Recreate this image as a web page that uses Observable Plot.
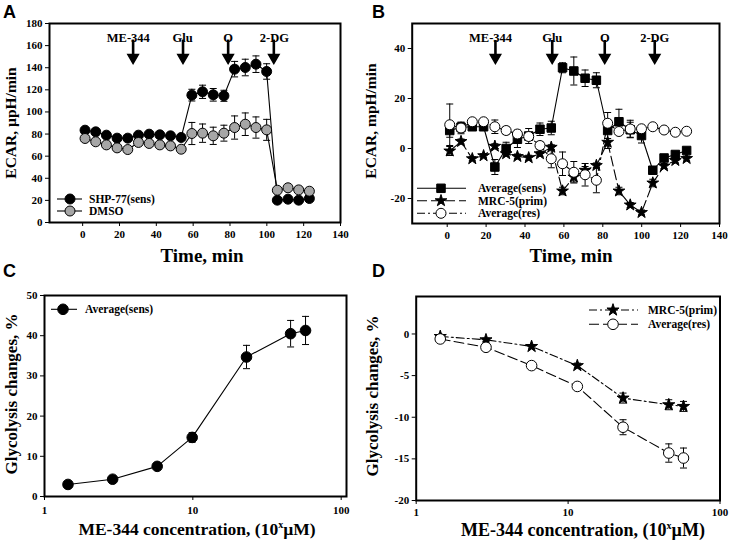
<!DOCTYPE html>
<html><head><meta charset="utf-8">
<script src="https://cdn.jsdelivr.net/npm/d3@7"></script>
<script src="https://cdn.jsdelivr.net/npm/@observablehq/plot@0.6"></script>
<style>
html,body{margin:0;padding:0;background:#fff;}
#wrap{position:relative;width:731px;height:545px;overflow:hidden;background:#fff;}
#wrap svg{position:absolute;}
</style></head><body><div id="wrap"></div>
<script>
// ---------- data ----------
const time = [1.3,7.1,12.9,18.7,24.5,30.3,36.1,41.9,47.7,53.5,59.3,65.1,70.9,76.7,82.5,88.3,94.1,99.9,105.7,111.5,117.3,123.1];
// Panel A
const shp = [83.5,82,79,76.3,76.3,79,79.9,79.3,78.4,76.9,115.2,118.2,115.5,114.6,138.7,140.2,143.2,136.6,20.2,21.1,20.2,21.7];
const shpErr = [2,2,2,2,2,2,2,2,2,2,5.3,6,5.7,5,7,7.5,7.5,7,1.5,1.5,1.5,1.5];
const dmso = [76,73,70.2,67.5,66,72.4,71.5,70.2,69.3,66.3,80.5,80.8,78.4,80.8,85.9,88.9,85.9,83.8,29.2,31.4,29.5,28.3];
const dmsoErr = [2.5,2.5,2.5,2.5,2.5,2.5,2.5,2.5,2.5,2.5,10,8.3,7.8,7.2,10.5,10.2,9.6,9.5,2,2,2,2];
// Panel B
const sens = [7.2,8.5,8.7,8.7,-7.4,0,3.7,5,7.7,8.2,32.3,31,28.1,27.3,7.2,10.7,7.5,5.2,-8.7,-3.8,-2.4,-0.8];
const sensErr = [2.7,2,1.5,1.5,3,2.5,3.3,3,2.5,2.7,2,5.6,3.3,3,7.2,5,3,3,1.5,1.2,1.2,1];
const mrc = [-1,2.8,-4.1,-2.9,0.9,-2.1,-3.2,-3.7,-2.1,0.5,-17,-11.4,-8.7,-6.8,2.5,-17,-22.6,-25.6,-13.8,-7,-4.8,-4];
const mrcErr = [1.8,1,0.8,0.8,1,1,1,1,1,1,1.5,2,1.5,1,1.5,1.5,1,1,1.5,1,1,1];
const res = [9.5,8.2,10.7,10.7,8.7,7.2,5.8,4.8,1.2,-4.1,-6.1,-9.5,-10.5,-12.7,10.1,6.8,7.8,7.9,8.7,7.4,6.5,6.9];
const resErr = [8.3,2.3,1,1,2.7,1.5,1.5,1.5,1.5,3.6,4.7,4.3,4.5,5,1.5,1,3.5,1,0.8,0.8,0.8,0.8];
// Injection annotations (arrow time, label time, arrow shaft top/bottom in y units)
const injLabels = ["ME-344","Glu","O","2-DG"];
const arrowTimesA = [27.4,54.5,79,103.8];
const labelTimesA = [24.8,54.3,79,104.1];
const arrowShaftA = [165,151];
const arrowTimesB = [24.8,54,81,106.7];
const labelTimesB = [22.3,54,81,106.7];
const arrowShaftB = [43.2,37];
// Panel C
const concC = [1.44,2.88,5.75,9.9,23,45.6,57.5];
const sensC = [3.0,4.3,7.5,14.7,34.7,40.5,41.3];
const sensCErr = [0.4,0.4,0.6,1.2,2.9,3.3,3.5];
// Panel D
const concD = [1.44,2.88,5.75,11.5,23,46,57.5];
const mrcD = [-0.3,-0.7,-1.5,-3.8,-7.7,-8.5,-8.7];
const mrcDErr = [0.2,0.2,0.2,0.3,0.6,0.6,0.6];
const resD = [-0.6,-1.6,-3.8,-6.3,-11.2,-14.3,-14.9];
const resDErr = [0.2,0.2,0.2,0.3,0.9,1.1,1.2];
// Ticks
const timeTicks = [0,20,40,60,80,100,120,140];
const yTicksA = [0,20,40,60,80,100,120,140,160,180];
const yTicksB = [-20,0,20,40];
const concTicks = [1,10,100];
const yTicksC = [0,10,20,30,40,50];
const yTicksD = [-20,-15,-10,-5,0];

// ---------- helpers ----------
const cap = {draw(ctx, size){const w = Math.sqrt(size/Math.PI); ctx.moveTo(-w,0); ctx.lineTo(w,0);}};
function errMarks(xs, ys, es, capR){
  const idx = d3.range(xs.length);
  return [
    Plot.ruleX(idx, {x: i=>xs[i], y1: i=>ys[i]-es[i], y2: i=>ys[i]+es[i], stroke:"black", strokeWidth:1}),
    Plot.dot(idx, {x: i=>xs[i], y: i=>ys[i]+es[i], symbol: cap, r: capR, stroke:"black", strokeWidth:1}),
    Plot.dot(idx, {x: i=>xs[i], y: i=>ys[i]-es[i], symbol: cap, r: capR, stroke:"black", strokeWidth:1})
  ];
}
function series(xs, ys, opts){
  const idx = d3.range(xs.length);
  return [
    Plot.line(idx, {x: i=>xs[i], y: i=>ys[i], stroke:"black", strokeWidth:1.1, strokeDasharray: opts.dash || null}),
    Plot.dot(idx, {x: i=>xs[i], y: i=>ys[i], r: opts.r, symbol: opts.symbol, fill: opts.fill, stroke:"black", strokeWidth:1})
  ];
}
function arrows(at, lt, shaft){
  return [
    Plot.ruleX(at, {x: d=>d, y1: () => shaft[0], y2: () => shaft[1], stroke:"black", strokeWidth:2.6}),
    Plot.dot(at, {x: d=>d, frameAnchor:"top", dy: 34, symbol:"triangle", rotate:180, r:3.9, fill:"black", stroke:"black"}),
    Plot.text(lt, {x: d=>d, text: (d,i)=>injLabels[i], frameAnchor:"top", dy: 10, fontSize: 12.5, fontWeight:"bold", fill:"black"})
  ];
}
const baseStyle = "font-family:'Liberation Serif',serif;font-size:11px;font-weight:bold;background:transparent;overflow:visible;color:black;";
const fmt = d => String(d);

function place(svg, left, top){
  svg.style.left = left + "px"; svg.style.top = top + "px";
  document.getElementById("wrap").appendChild(svg);
}

// ---------- Panel A ----------
const plotA = Plot.plot({
  width: 365, height: 272, marginLeft: 49, marginRight: 25, marginTop: 23, marginBottom: 50,
  style: baseStyle,
  x: {domain: [-18,140], ticks: timeTicks, tickSize: 4, tickPadding: 4, label: null, tickFormat: fmt},
  y: {domain: [0,180], ticks: yTicksA, tickSize: 4, tickPadding: 3, label: null, tickFormat: fmt},
  marks: [
    ...arrows(arrowTimesA, labelTimesA, arrowShaftA),
    ...errMarks(time, shp, shpErr, 3.5),
    ...errMarks(time, dmso, dmsoErr, 3.5),
    ...series(time, shp, {r:5, symbol:"circle", fill:"black"}),
    ...series(time, dmso, {r:5, symbol:"circle", fill:"#a6a6a6"}),
    Plot.frame({stroke:"black", strokeWidth:2})
  ]
});
place(plotA, 0, 0);

// ---------- Panel B ----------
const plotB = Plot.plot({
  width: 366, height: 272, marginLeft: 46.7, marginRight: 12, marginTop: 23, marginBottom: 49,
  style: baseStyle,
  x: {domain: [-18,140], ticks: timeTicks, tickSize: 4, tickPadding: 4, label: null, tickFormat: fmt},
  y: {domain: [-30,50], ticks: yTicksB, tickSize: 4, tickPadding: 3, label: null, tickFormat: fmt},
  marks: [
    ...arrows(arrowTimesB, labelTimesB, arrowShaftB),
    ...errMarks(time, sens, sensErr, 3.5),
    ...errMarks(time, mrc, mrcErr, 3.5),
    ...errMarks(time, res, resErr, 3.5),
    ...series(time, sens, {r:4.8, symbol:"square", fill:"black"}),
    ...series(time, mrc, {r:3.7, symbol:"star", fill:"black", dash:"10,4"}),
    ...series(time, res, {r:5, symbol:"circle", fill:"white", dash:"8,3,2,3"}),
    Plot.frame({stroke:"black", strokeWidth:2})
  ]
});
place(plotB, 365, 0);

// ---------- Panel C ----------
const plotC = Plot.plot({
  width: 365, height: 273, marginLeft: 44, marginRight: 19, marginTop: 23, marginBottom: 49,
  style: baseStyle,
  x: {type:"log", domain: [1,108.6], ticks: concTicks, tickSize: 4, tickPadding: 6, label: null, tickFormat: fmt},
  y: {domain: [0,50], ticks: yTicksC, tickSize: 4, tickPadding: 3, label: null, tickFormat: fmt},
  marks: [
    ...errMarks(concC, sensC, sensCErr, 3.5),
    ...series(concC, sensC, {r:5.3, symbol:"circle", fill:"black"}),
    Plot.frame({stroke:"black", strokeWidth:2})
  ]
});
place(plotC, 0, 272);

// ---------- Panel D ----------
const plotD = Plot.plot({
  width: 366, height: 273, marginLeft: 50.7, marginRight: 11.5, marginTop: 24, marginBottom: 45,
  style: baseStyle,
  x: {type:"log", domain: [1,100], ticks: concTicks, tickSize: 4, tickPadding: 4, label: null, tickFormat: fmt},
  y: {domain: [-20,4.5], ticks: yTicksD, tickSize: 4, tickPadding: 3, label: null, tickFormat: fmt},
  marks: [
    ...errMarks(concD, mrcD, mrcDErr, 3.5),
    ...errMarks(concD, resD, resDErr, 3.5),
    ...series(concD, mrcD, {r:3.8, symbol:"star", fill:"black", dash:"8,3,2,3"}),
    ...series(concD, resD, {r:5.3, symbol:"circle", fill:"white", dash:"10,4"}),
    Plot.frame({stroke:"black", strokeWidth:2})
  ]
});
place(plotD, 365, 272);

// ---------- overlay: panel letters, axis titles, legends ----------
const ov = d3.select("#wrap").append("svg")
  .attr("width", 731).attr("height", 545)
  .style("left","0px").style("top","0px").style("pointer-events","none")
  .style("font-family","'Liberation Serif',serif").style("font-weight","bold");

[["A",3,18],["B",372,18],["C",3,277],["D",372,277]].forEach(([t,x,y]) =>
  ov.append("text").attr("x",x).attr("y",y).text(t)
    .style("font-family","'Liberation Sans',Arial,sans-serif").style("font-size","18px").style("font-weight","bold"));

function yTitle(txt, x, y, fs){
  ov.append("text").attr("transform",`translate(${x},${y}) rotate(-90)`)
    .attr("text-anchor","middle").attr("dy","0.35em").style("font-size",fs+"px").text(txt);
}
yTitle("ECAR, \u00b5pH/min", 11, 123, 15.5);
yTitle("ECAR, mpH/min", 371, 121, 15.5);
yTitle("Glycolysis changes, %", 11, 394, 17);
yTitle("Glycolysis changes, %", 372.5, 396, 17);

function xTitle(x, y, fs, parts){
  const t = ov.append("text").attr("x",x).attr("y",y).attr("text-anchor","middle").style("font-size",fs+"px");
  parts(t);
}
xTitle(202, 262, 19, t => t.text("Time, min"));
xTitle(571, 262, 19, t => t.text("Time, min"));
function concTitle(t){
  t.append("tspan").text("ME-344 concentration, (10");
  t.append("tspan").attr("dy",-7).style("font-size","10px").text("x");
  t.append("tspan").attr("dy",7).text("\u00b5M)");
}
xTitle(197, 535, 17.5, concTitle);
xTitle(583, 536, 18, concTitle);

const symMap = {circle: d3.symbolCircle, square: d3.symbolSquare, star: d3.symbolStar};
function legendItem(x0, x1, xm, y, dash, sym, r, fill, label, tx){
  ov.append("line").attr("x1",x0).attr("x2",x1).attr("y1",y).attr("y2",y)
    .attr("stroke","black").attr("stroke-width",1.1).attr("stroke-dasharray", dash || null);
  ov.append("path").attr("transform",`translate(${xm},${y})`)
    .attr("d", d3.symbol(symMap[sym], Math.PI*r*r)()).attr("fill",fill).attr("stroke","black");
  ov.append("text").attr("x",tx).attr("y",y).attr("dy","0.35em").style("font-size","11.5px").text(label);
}
legendItem(57, 82, 70, 199, null, "circle", 5, "black", "SHP-77(sens)", 89);
legendItem(57, 82, 70, 211, null, "circle", 5, "#a6a6a6", "DMSO", 89);
legendItem(417, 466, 441, 188.3, null, "square", 4.8, "black", "Average(sens)", 478);
legendItem(417, 466, 441, 200.7, "10,4", "star", 3.7, "black", "MRC-5(prim)", 478);
legendItem(417, 466, 441, 213.3, "8,3,2,3", "circle", 5, "white", "Average(res)", 478);
legendItem(51, 77, 63, 309.3, null, "circle", 5.3, "black", "Average(sens)", 85);
legendItem(589, 638, 613, 310, "8,3,2,3", "star", 3.8, "black", "MRC-5(prim)", 648);
legendItem(589, 638, 613, 324.3, "10,4", "circle", 5.3, "white", "Average(res)", 648);
</script></body></html>
